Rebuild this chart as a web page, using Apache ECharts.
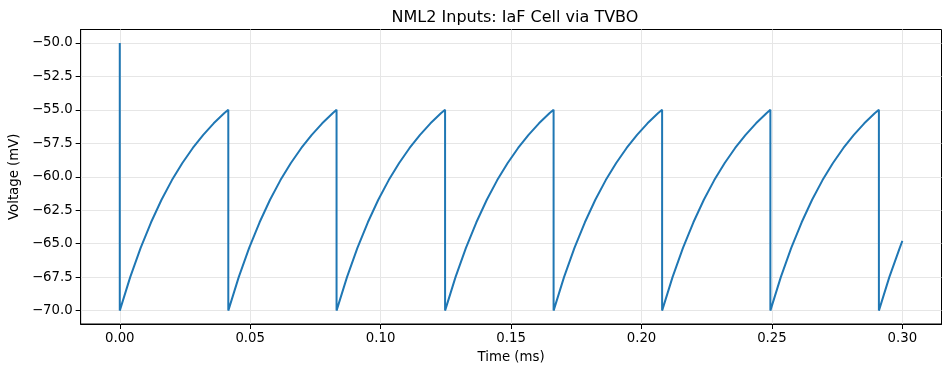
<!DOCTYPE html>
<html>
<head>
<meta charset="utf-8">
<script src="https://cdn.jsdelivr.net/npm/echarts@6/dist/echarts.min.js"></script>
<style>
html,body{margin:0;padding:0;background:#fff;}
#chart{width:950px;height:374px;}
</style>
</head>
<body>
<div id="chart"></div>
<script>
// Values
const chartTitle = 'NML2 Inputs: IaF Cell via TVBO';
const xLabel = 'Time (ms)';
const yLabel = 'Voltage (mV)';
const xTicks = [0.00, 0.05, 0.10, 0.15, 0.20, 0.25, 0.30];
const yTicks = [-70.0, -67.5, -65.0, -62.5, -60.0, -57.5, -55.0, -52.5, -50.0];
const initialPoint = [0.0, -50.0];
const resetTimes = [0.0, 0.0416, 0.0831, 0.1247, 0.1663, 0.2079, 0.2494, 0.2910];
// time since reset (ms) and voltage (mV) read along one charging cycle
const cycleOffsets = [0, 0.004, 0.008, 0.012, 0.016, 0.020, 0.024, 0.028, 0.032, 0.036, 0.040];
const cycleVoltages = [-70.0, -67.50, -65.31, -63.40, -61.72, -60.25, -58.97, -57.85, -56.87, -56.01, -55.26];
const peakVoltage = -55.0;
const finalPoint = [0.300, -64.79];

const data = [initialPoint];
resetTimes.forEach(function (r, i) {
  const last = i + 1 >= resetTimes.length;
  const limit = last ? finalPoint[0] : resetTimes[i + 1];
  cycleOffsets.forEach(function (o, j) {
    const t = r + o;
    if (t < limit - 1e-6) data.push([+t.toFixed(5), cycleVoltages[j]]);
  });
  if (!last) data.push([limit, peakVoltage]);
});
data.push(finalPoint);

const font = 'DejaVu Sans';
const chart = echarts.init(document.getElementById('chart'), null, {renderer: 'canvas'});
chart.setOption({
  animation: false,
  backgroundColor: '#ffffff',
  title: {
    text: chartTitle,
    left: 510,
    top: 5,
    textAlign: 'center',
    textStyle: {fontFamily: font, fontSize: 16, fontWeight: 'normal', color: '#000'}
  },
  grid: {
    left: 78.5, right: 8.5, top: 29.5, bottom: 50,
    show: true, borderColor: '#000', borderWidth: 1, backgroundColor: 'transparent'
  },
  xAxis: {
    type: 'value',
    min: -0.015, max: 0.315,
    name: xLabel, nameLocation: 'middle', nameGap: 27,
    nameTextStyle: {fontFamily: font, fontSize: 13.3, color: '#000'},
    axisLine: {show: true, onZero: false, lineStyle: {color: '#000', width: 1}},
    axisTick: {show: true, length: 5, customValues: xTicks, lineStyle: {color: '#000', width: 1}},
    axisLabel: {
      customValues: xTicks, margin: 8,
      fontFamily: font, fontSize: 13.3, color: '#000',
      formatter: function (v) { return v.toFixed(2); }
    },
    splitLine: {show: true, lineStyle: {color: '#e6e6e6', width: 1}}
  },
  yAxis: {
    type: 'value',
    min: -71, max: -49,
    name: yLabel, nameLocation: 'middle', nameGap: 56,
    nameTextStyle: {fontFamily: font, fontSize: 13.3, color: '#000'},
    axisLine: {show: true, onZero: false, lineStyle: {color: '#000', width: 1}},
    axisTick: {show: true, length: 5, customValues: yTicks, lineStyle: {color: '#000', width: 1}},
    axisLabel: {
      customValues: yTicks, margin: 8,
      fontFamily: font, fontSize: 13.3, color: '#000',
      formatter: function (v) { return (v < 0 ? '\u2212' : '') + Math.abs(v).toFixed(1); }
    },
    splitLine: {show: true, lineStyle: {color: '#e6e6e6', width: 1}}
  },
  series: [{
    type: 'line',
    data: data,
    showSymbol: false,
    symbol: 'none',
    lineStyle: {color: '#1f77b4', width: 2},
    itemStyle: {color: '#1f77b4'}
  }]
});
</script>
</body>
</html>
